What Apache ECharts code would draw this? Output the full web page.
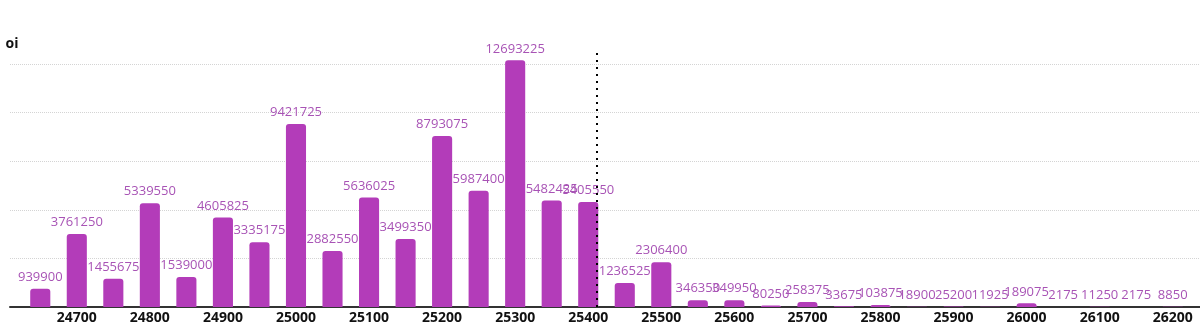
<!DOCTYPE html>
<html>
<head>
<meta charset="utf-8">
<script src="https://cdn.jsdelivr.net/npm/echarts@6/dist/echarts.min.js"></script>
<style>
html,body{margin:0;padding:0;background:#fff;}
#c{width:1200px;height:330px;}
</style>
</head>
<body>
<div id="c"></div>
<script>
const strikes = ['24650','24700','24750','24800','24850','24900','24950','25000','25050','25100','25150','25200','25250','25300','25350','25400','25450','25500','25550','25600','25650','25700','25750','25800','25850','25900','25950','26000','26050','26100','26150','26200'];
const oi = [939900,3761250,1455675,5339550,1539000,4605825,3335175,9421725,2882550,5636025,3499350,8793075,5987400,12693225,5482425,5405550,1236525,2306400,346350,349950,80250,258375,33675,103875,18900,25200,11925,189075,2175,11250,2175,8850];
const spot = 25411;
const yStep = 2500000;

const yMax = Math.max(...oi) * 1.05;
const fontFam = '"Open Sans", "DejaVu Sans", sans-serif';

const chart = echarts.init(document.getElementById('c'), null, {renderer: 'canvas'});
chart.setOption({
  animation: false,
  backgroundColor: '#ffffff',
  grid: [
    {left: 10, right: 0, top: 48, bottom: 23, containLabel: false},
    {left: 22, right: 9, top: 48, bottom: 23, containLabel: false}
  ],
  xAxis: [
    {gridIndex: 0, type: 'value', min: 0, max: 1, axisLabel: {show: false}, axisTick: {show: false}, splitLine: {show: false},
     axisLine: {show: true, lineStyle: {color: '#333', width: 2}}},
    {gridIndex: 1, type: 'category', data: strikes, boundaryGap: true,
     axisLine: {show: false}, axisTick: {show: false},
     axisLabel: {interval: (i) => i % 2 === 1, margin: 4, color: '#111', fontWeight: 'bold', fontSize: 14, fontFamily: fontFam}},
    {gridIndex: 1, type: 'value', min: Number(strikes[0]) - 25, max: Number(strikes[strikes.length-1]) + 25, show: false}
  ],
  yAxis: [
    {gridIndex: 0, type: 'value', min: 0, max: yMax, interval: yStep,
     name: 'oi', nameLocation: 'end', nameGap: -3,
     nameTextStyle: {color: '#111', fontWeight: 'bold', fontSize: 14, fontFamily: fontFam, padding: [0, 0, 0, 4]},
     axisLine: {show: false}, axisTick: {show: false}, axisLabel: {show: false},
     splitLine: {show: true, showMaxLine: false, lineStyle: {color: '#d4d4d4', type: 'dotted', width: 1}}},
    {gridIndex: 1, type: 'value', min: 0, max: yMax, show: false, splitLine: {show: false}}
  ],
  series: [
    {type: 'line', xAxisIndex: 2, yAxisIndex: 1, data: [], z: 1, silent: true,
     markLine: {silent: true, symbol: ['none', 'none'], label: {show: false},
       lineStyle: {color: '#000', type: [2, 5], width: 2},
       data: [{xAxis: spot}]}},
    {type: 'bar', xAxisIndex: 1, yAxisIndex: 1, data: oi, barWidth: '55%', z: 3,
     itemStyle: {color: '#b33cb9', borderRadius: [3, 3, 0, 0]},
     label: {show: true, position: 'top', distance: 5, color: '#a853b5', fontSize: 13, fontFamily: fontFam}}
  ]
});
</script>
</body>
</html>
